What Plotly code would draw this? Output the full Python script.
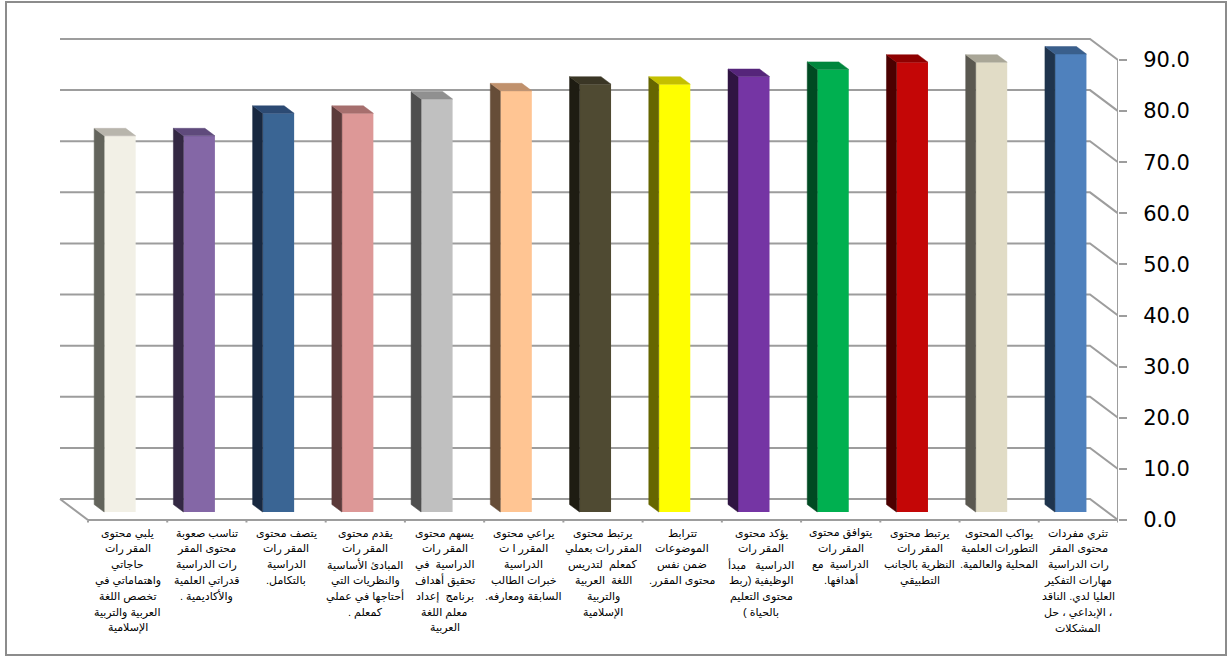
import plotly.graph_objects as go

# ---------------- data ----------------
categories = [
    "يلبي محتوى<br>المقر رات<br>حاجاتي<br>واهتماماتي في<br>تخصص اللغة<br>العربية والتربية<br>الإسلامية",
    "تناسب صعوبة<br>محتوى المقر<br>رات الدراسية<br>قدراتي العلمية<br>والأكاديمية .",
    "يتصف محتوى<br>المقر رات<br>الدراسية<br>بالتكامل.",
    "يقدم محتوى<br>المقر رات<br>المبادئ الأساسية<br>والنظريات التي<br>أحتاجها في عملي<br>كمعلم .",
    "يسهم محتوى<br>المقر رات<br>الدراسية  في<br>تحقيق أهداف<br>برنامج  إعداد<br>معلم اللغة<br>العربية",
    "يراعي محتوى<br>المقرر ا ت<br>الدراسية<br>خبرات الطالب<br>السابقة ومعارفه.",
    "يرتبط محتوى<br>المقر رات بعملي<br>كمعلم  لتدريس<br>اللغة  العربية<br>والتربية<br>الإسلامية",
    "تترابط<br>الموضوعات<br>ضمن نفس<br>محتوى المقرر.",
    "يؤكد محتوى<br>المقر رات<br>الدراسية   مبدأ<br>الوظيفية (ربط<br>محتوى التعليم<br>بالحياة )",
    "يتوافق محتوى<br>المقر رات<br>الدراسية  مع<br>أهدافها.",
    "يرتبط محتوى<br>المقر رات<br>النظرية بالجانب<br>التطبيقي",
    "يواكب المحتوى<br>التطورات العلمية<br>المحلية والعالمية.",
    "تثري مفردات<br>محتوى المقر<br>رات الدراسية<br>مهارات التفكير<br>العليا لدي. الناقد<br>، الإبداعي ، حل<br>المشكلات",
]
values = [73.6, 73.6, 78.0, 78.0, 80.8, 82.4, 83.7, 83.7, 85.2, 86.6, 88.0, 88.0, 89.6]
y_ticks = [0, 10, 20, 30, 40, 50, 60, 70, 80, 90]

# ---------------- styles ----------------
front_colors = ["#F2F0E6", "#8467A6", "#3A6594", "#DD9897", "#C0C0C0", "#FFC593", "#4F4A32",
                "#FFFF00", "#7535A4", "#00B050", "#C40606", "#E1DCC6", "#4F81BD"]
side_colors = ["#63645C", "#332843", "#182840", "#5B3A3A", "#4F4F4F", "#664D38", "#1E1C12",
               "#666600", "#2F1442", "#004A22", "#4B0000", "#5A5850", "#1F344D"]
top_colors = ["#B8B5AC", "#5F4A7C", "#2C4A73", "#A66F6E", "#909090", "#C0916C", "#3A3625",
              "#C4C000", "#55257A", "#00863D", "#8F0000", "#A9A697", "#3A5F8C"]

W, H = 1229, 657
PXC = 1030 / 13          # px per category (front plane)
PXV = 460 / 90           # px per value unit
FRONT_LEFT_PX, ZERO_PX = 88, 520
L_PX, R_PX, T_PX, B_PX = 55, 1118, 37, 523

WALL_DX, WALL_DY = -28 / PXC, 21 / PXV     # depth of the whole box
BAR_DX, BAR_DY = -7.7 / PXC, 8 / PXV       # bar front plane position
BD_DX, BD_DY = -10 / PXC, 7.5 / PXV        # bar depth
BAR_W = 31.5 / PXC
GRID = "#9d9d9d"
LABEL_FIRST_PX, LABEL_STEP_PX = 533, 15.8

xr = [(L_PX - FRONT_LEFT_PX) / PXC, (R_PX - FRONT_LEFT_PX) / PXC]
yr = [(ZERO_PX - B_PX) / PXV, (ZERO_PX - T_PX) / PXV]
n = len(values)

fig = go.Figure()

# ---------- walls / floor / gridlines (as a path below the traces) ----------
segs = []
for v in y_ticks:
    segs.append([(WALL_DX, v + WALL_DY), (n + WALL_DX, v + WALL_DY), (n, v)])
segs.append([(WALL_DX, WALL_DY), (0, 0), (n, 0)])
segs.append([(n, 0), (n, y_ticks[-1])])
for i in range(n + 1):
    segs.append([(i, 0), (i, -0.5)])
path = " ".join("M " + " L ".join(f"{x:.5f},{y:.5f}" for x, y in s) for s in segs)

# ---------- 3D bars ----------
for i, (v, fc, sc, tc) in enumerate(zip(values, front_colors, side_colors, top_colors)):
    cx = i + 0.5 + BAR_DX
    xl, xrr = cx - BAR_W / 2, cx + BAR_W / 2
    b, t = BAR_DY, v + BAR_DY
    fig.add_trace(go.Scatter(
        x=[xl, xl, xl + BD_DX, xl + BD_DX, xl],
        y=[b, t, t + BD_DY, b + BD_DY, b],
        mode="lines", fill="toself", fillcolor=sc, line=dict(color=sc, width=0.5),
        hoverinfo="skip", showlegend=False))
    fig.add_trace(go.Scatter(
        x=[xl, xrr, xrr + BD_DX, xl + BD_DX, xl],
        y=[t, t, t + BD_DY, t + BD_DY, t],
        mode="lines", fill="toself", fillcolor=tc, line=dict(color=tc, width=0.5),
        hoverinfo="skip", showlegend=False))
    fig.add_trace(go.Bar(x=[cx], y=[v], base=[b], width=[BAR_W],
                         marker=dict(color=fc, line=dict(width=0)),
                         hoverinfo="skip", showlegend=False))

# ---------- category labels (one annotation per line for Excel-like spacing) ----------
RLM = "\u200f"
annotations = []
for i, c in enumerate(categories):
    for k, line in enumerate(c.split("<br>")):
        annotations.append(dict(
            x=i + 0.5, y=0, xref="x", yref="y", xanchor="center", yanchor="middle",
            yshift=-(LABEL_FIRST_PX + k * LABEL_STEP_PX - ZERO_PX),
            text=RLM + line + RLM, showarrow=False,
            font=dict(family="Arial, DejaVu Sans", size=11, color="black")))

fig.update_layout(
    width=W, height=H,
    margin=dict(l=L_PX, r=W - R_PX, t=T_PX, b=H - B_PX, pad=0),
    paper_bgcolor="white", plot_bgcolor="rgba(0,0,0,0)",
    barmode="overlay",
    xaxis=dict(range=xr, showgrid=False, zeroline=False, showline=False, ticks="",
               showticklabels=False, fixedrange=True),
    yaxis=dict(range=yr, side="right", showgrid=False, zeroline=False, showline=False,
               tickvals=y_ticks, ticktext=[f"{v:.1f}" for v in y_ticks],
               ticks="outside", ticklen=8, tickwidth=2, tickcolor=GRID,
               ticklabelstandoff=12,
               tickfont=dict(family="DejaVu Sans", size=21, color="black"),
               fixedrange=True),
    annotations=annotations,
    shapes=[
        dict(type="path", xref="x", yref="y", path=path, layer="below",
             line=dict(color=GRID, width=2)),
        dict(type="rect", xref="paper", yref="paper",
             x0=(6 - L_PX) / (R_PX - L_PX), x1=(1226 - L_PX) / (R_PX - L_PX),
             y0=(B_PX - 655) / (B_PX - T_PX), y1=(B_PX - 2) / (B_PX - T_PX),
             line=dict(color="#8c8c8c", width=2), layer="below"),
    ],
)

fig.write_html("out.html")
